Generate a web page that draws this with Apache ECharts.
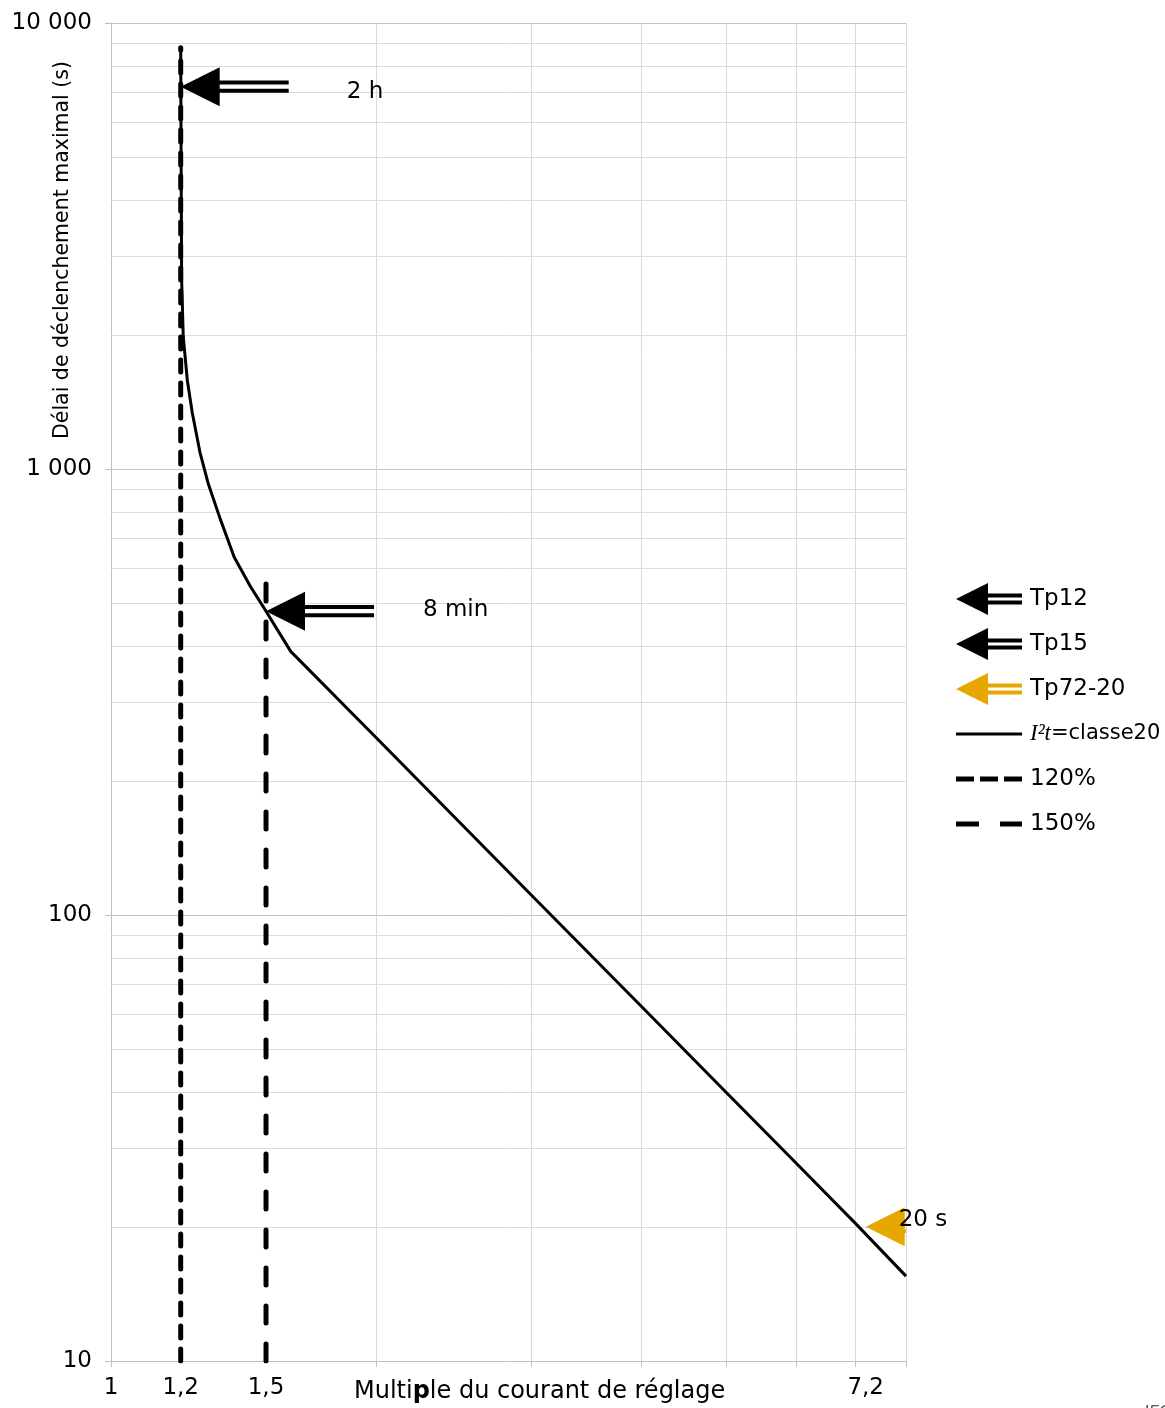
<!DOCTYPE html>
<html>
<head>
<meta charset="utf-8">
<title>Délai de déclenchement maximal</title>
<script src="https://cdn.jsdelivr.net/npm/echarts@6/dist/echarts.min.js"></script>
<style>
  html, body { margin: 0; padding: 0; background: #ffffff; }
  #chart { width: 1165px; height: 1408px; }
</style>
</head>
<body>
<div id="chart"></div>
<script>
// Thermal trip curve: multiple of the setting current vs. maximum trip delay (s)
const curveCurrent = [1.2, 1.2015, 1.203, 1.208, 1.221, 1.237, 1.262, 1.29, 1.33, 1.38, 1.44, 1.5, 1.6, 2, 3, 4, 5, 6, 7, 8];
const curveDelay   = [8800, 4500, 2650, 1980, 1580, 1335, 1090, 925, 775, 635, 545, 480, 390, 250, 111, 62.5, 40, 27.8, 20.4, 15.5];

// Vertical limit lines at 120 % and 150 % of the setting current
const limit120Current = [1.2, 1.2];
const limit120Delay   = [10, 8800];
const limit150Current = [1.5, 1.5];
const limit150Delay   = [10, 600];

// Test points marked with arrows
const tripNames   = ['Tp12', 'Tp15', 'Tp72-20'];
const tripCurrent = [1.2, 1.5, 7.2];
const tripDelay   = [7200, 480, 20];
const tripLabels  = ['2 h', '8 min', '20 s'];

// Axis ticks
const xTickValues = [1, 1.2, 1.5, 7.2];
const xTickLabels = ['1', '1,2', '1,5', '7,2'];
const xGridValues = [2, 3, 4, 5, 6, 7, 8];
const xTickMarks  = [1, 2, 3, 4, 5, 6, 7, 8];
const yTickValues = [10, 100, 1000, 10000];
const yTickLabels = ['10', '100', '1 000', '10 000'];
const yMinorGrid  = [20, 30, 40, 50, 60, 70, 80, 90,
                     200, 300, 400, 500, 600, 700, 800, 900,
                     2000, 3000, 4000, 5000, 6000, 7000, 8000, 9000];

const curveName = 'I²t=classe20';
const FONT = '"DejaVu Sans", "Liberation Sans", Arial, sans-serif';
const SERIF = '"Liberation Serif", "DejaVu Serif", serif';
const GOLD = '#E6A800';
const tripColors = ['#000000', '#000000', GOLD];
// label placement relative to each arrow tip (px)
const tripLabelOffsets = [[166, 5], [157, -1], [33, -7]];

// arrow geometry in px: triangular head plus a double shaft
const ARROW = { headW: 39, headH: 39, shaftL: 69, bar: 4, gap: 4.3 };
// legend glyphs
const ARROW_ICON  = 'path://M0,16L32,0L32,32Z M31,10.5L66,10.5L66,14.5L31,14.5Z M31,17.5L66,17.5L66,21.5L31,21.5Z';
const SOLID_ICON  = 'path://M0,0L66,0L66,3L0,3Z';
const DASH3_ICON  = 'path://M0,0h18v5h-18z M24,0h18v5h-18z M48,0h18v5h-18z';
const DASH2_ICON  = 'path://M0,0h23v5h-23z M44,0h22v5h-22z';

const pairs = (xs, ys) => xs.map((x, i) => [x, ys[i]]);

function nearestLabel(values, labels, v) {
  let best = 0, bestD = Infinity;
  values.forEach((t, i) => {
    const d = Math.abs(Math.log(t) - Math.log(v));
    if (d < bestD) { bestD = d; best = i; }
  });
  return bestD < 0.01 ? labels[best] : '';
}

function gridRenderer(vertical, color) {
  return function (params, api) {
    const cs = params.coordSys;
    if (vertical) {
      const x = Math.round(api.coord([api.value(0), 10])[0]) + 0.5;
      return { type: 'line', silent: true,
        shape: { x1: x, y1: cs.y, x2: x, y2: cs.y + cs.height },
        style: { stroke: color, lineWidth: 1 } };
    }
    const y = Math.round(api.coord([1, api.value(1)])[1]) + 0.5;
    return { type: 'line', silent: true,
      shape: { x1: cs.x, y1: y, x2: cs.x + cs.width, y2: y },
      style: { stroke: color, lineWidth: 1 } };
  };
}

function arrowRenderer(label, offset) {
  return function (params, api) {
    const p = api.coord([api.value(0), api.value(1)]);
    const cs = params.coordSys;
    const a = ARROW;
    const color = api.visual('color');
    const h = a.gap / 2;
    const shaftX = p[0] + a.headW - 1;
    return {
      type: 'group',
      children: [
        {
          type: 'group',
          clipPath: { type: 'rect', shape: { x: cs.x, y: cs.y, width: cs.width, height: cs.height } },
          children: [
            { type: 'polygon', shape: { points: [[p[0], p[1]], [p[0] + a.headW, p[1] - a.headH / 2], [p[0] + a.headW, p[1] + a.headH / 2]] },
              style: { fill: color } },
            { type: 'rect', shape: { x: shaftX, y: p[1] - h - a.bar, width: a.shaftL + 1, height: a.bar }, style: { fill: color } },
            { type: 'rect', shape: { x: shaftX, y: p[1] + h, width: a.shaftL + 1, height: a.bar }, style: { fill: color } }
          ]
        },
        { type: 'text', x: p[0] + offset[0], y: p[1] + offset[1],
          style: { text: label, fill: '#000', font: '23px ' + FONT, align: 'left', verticalAlign: 'middle' } }
      ]
    };
  };
}

const tripSeries = tripNames.map((name, i) => ({
  type: 'custom',
  name: name,
  coordinateSystem: 'cartesian2d',
  data: [[tripCurrent[i], tripDelay[i]]],
  itemStyle: { color: tripColors[i] },
  renderItem: arrowRenderer(tripLabels[i], tripLabelOffsets[i]),
  z: 10,
  silent: true
}));

const chart = echarts.init(document.getElementById('chart'), null, { renderer: 'canvas' });

chart.setOption({
  animation: false,
  backgroundColor: '#ffffff',
  textStyle: { fontFamily: FONT },
  grid: { left: 111, right: 259, top: 23, bottom: 47, containLabel: false, outerBoundsMode: 'none' },
  xAxis: {
    type: 'log',
    logBase: 10,
    min: 1,
    max: 8,
    axisLine: { show: true, lineStyle: { color: '#bfbfbf', width: 1 } },
    axisTick: { show: true, customValues: xTickMarks, length: 6, lineStyle: { color: '#bfbfbf' } },
    axisLabel: {
      customValues: xTickValues,
      margin: 16,
      color: '#000',
      fontSize: 23,
      fontFamily: FONT,
      formatter: v => nearestLabel(xTickValues, xTickLabels, v)
    },
    splitLine: { show: false },
    minorTick: { show: false },
    minorSplitLine: { show: false }
  },
  yAxis: {
    type: 'log',
    logBase: 10,
    min: 10,
    max: 10000,
    axisLine: { show: true, lineStyle: { color: '#bfbfbf', width: 1 } },
    axisTick: { show: true, length: 6, lineStyle: { color: '#bfbfbf' } },
    axisLabel: {
      margin: 19,
      color: '#000',
      fontSize: 23,
      fontFamily: FONT,
      formatter: v => nearestLabel(yTickValues, yTickLabels, v)
    },
    splitLine: { show: true, lineStyle: { color: '#c4c4c4', width: 1 } },
    minorTick: { show: false },
    minorSplitLine: { show: false }
  },
  legend: {
    orient: 'vertical',
    left: 956,
    top: 583,
    padding: 0,
    itemWidth: 66,
    itemHeight: 32,
    itemGap: 13,
    selectedMode: false,
    textStyle: {
      color: '#000',
      fontSize: 23,
      lineHeight: 32,
      fontFamily: FONT,
      padding: [0, 0, 0, 3],
      rich: {
        i: { fontFamily: SERIF, fontStyle: 'italic', fontSize: 23, lineHeight: 32, color: '#000' },
        n: { fontFamily: FONT, fontSize: 21, lineHeight: 32, color: '#000' }
      }
    },
    formatter: name => name === curveName ? '{i|I²t}{n|=classe20}' : name,
    data: [
      { name: 'Tp12', icon: ARROW_ICON },
      { name: 'Tp15', icon: ARROW_ICON },
      { name: 'Tp72-20', icon: ARROW_ICON },
      { name: curveName, icon: SOLID_ICON, itemStyle: { color: '#000' } },
      { name: '120%', icon: DASH3_ICON, itemStyle: { color: '#000' } },
      { name: '150%', icon: DASH2_ICON, itemStyle: { color: '#000' } }
    ]
  },
  graphic: [
    {
      type: 'text',
      x: 63, y: 250,
      rotation: Math.PI / 2,
      style: {
        text: 'Délai de déclenchement maximal (s)',
        font: '20.5px ' + FONT,
        fill: '#000',
        align: 'center',
        verticalAlign: 'middle'
      }
    },
    {
      type: 'text',
      x: 354, y: 1392,
      style: {
        text: 'Multi{b|p}le du courant de réglage',
        font: '24px ' + FONT,
        fill: '#000',
        align: 'left',
        verticalAlign: 'middle',
        rich: { b: { fontWeight: 'bold', fontSize: 24, fontFamily: FONT, fill: '#000' } }
      }
    },
    {
      type: 'text',
      x: 1144, y: 1405,
      style: { text: 'IEC', font: 'italic 16px ' + FONT, fill: '#555', align: 'left', verticalAlign: 'top' }
    }
  ],
  series: [
    { type: 'custom', name: 'x-grid', silent: true, z: 1,
      data: xGridValues.map(v => [v, 10]), renderItem: gridRenderer(true, '#d9d9d9') },
    { type: 'custom', name: 'y-grid', silent: true, z: 1,
      data: yMinorGrid.map(v => [1, v]), renderItem: gridRenderer(false, '#dcdcdc') },
    {
      type: 'line', name: curveName,
      data: pairs(curveCurrent, curveDelay),
      symbol: 'none', z: 5, silent: true,
      itemStyle: { color: '#000' },
      lineStyle: { color: '#000', width: 3 }
    },
    {
      type: 'line', name: '120%',
      data: pairs(limit120Current, limit120Delay),
      symbol: 'none', z: 6, silent: true,
      itemStyle: { color: '#000' },
      lineStyle: { color: '#000', width: 5, type: [12, 11], cap: 'round' }
    },
    {
      type: 'line', name: '150%',
      data: pairs(limit150Current, limit150Delay),
      symbol: 'none', z: 6, silent: true,
      itemStyle: { color: '#000' },
      lineStyle: { color: '#000', width: 5, type: [17, 21], cap: 'round' }
    }
  ].concat(tripSeries)
});
</script>
</body>
</html>
